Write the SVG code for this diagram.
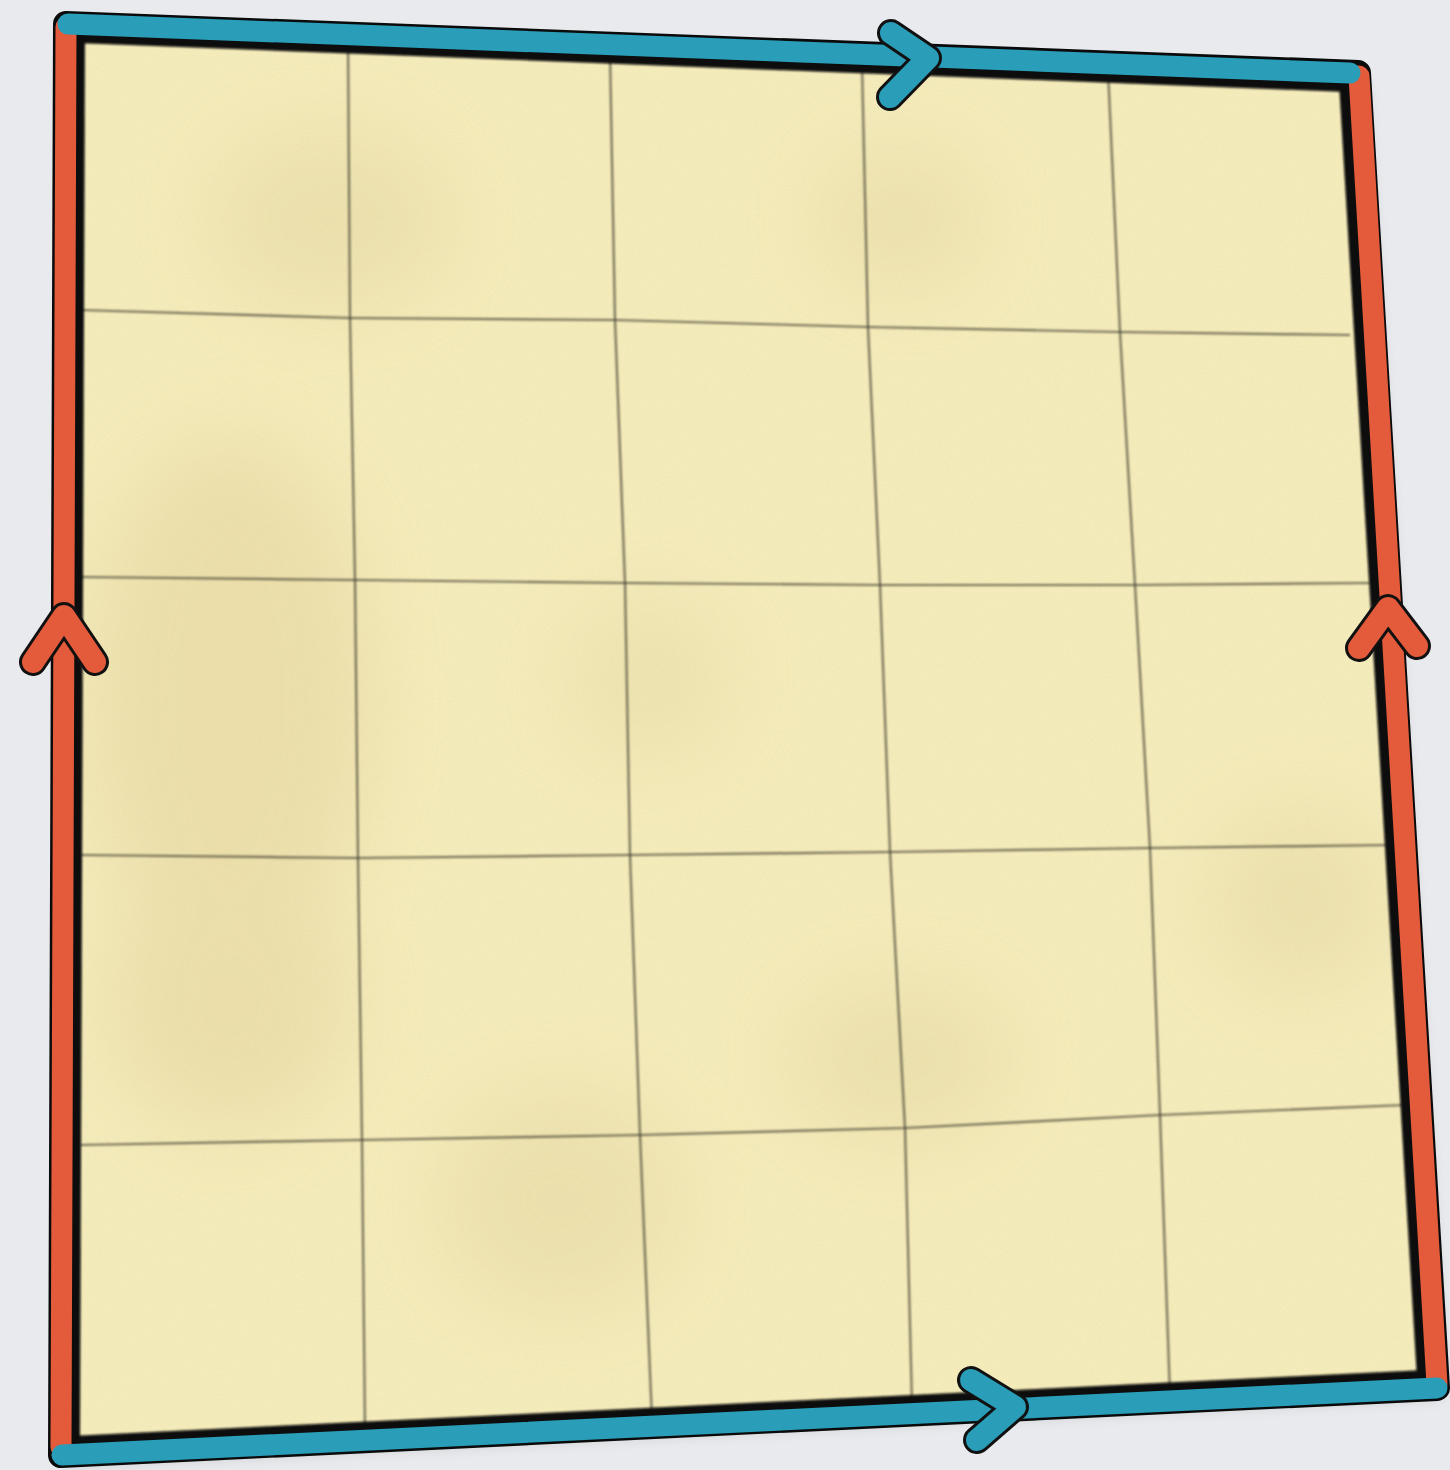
<svg xmlns="http://www.w3.org/2000/svg" width="1450" height="1470" viewBox="0 0 1450 1470">
<defs>
<filter id="blur" x="-50%" y="-50%" width="200%" height="200%"><feGaussianBlur stdDeviation="40"/></filter>
<filter id="soft" x="-10%" y="-10%" width="120%" height="120%"><feGaussianBlur stdDeviation="1.2"/></filter>
<filter id="shadow" x="-10%" y="-10%" width="120%" height="120%"><feGaussianBlur stdDeviation="8"/></filter>
<filter id="noise" x="0" y="0" width="100%" height="100%">
<feTurbulence type="fractalNoise" baseFrequency="0.9" numOctaves="2" seed="3" result="n"/>
<feColorMatrix in="n" type="matrix" values="0 0 0 0 0.6  0 0 0 0 0.52  0 0 0 0 0.25  0 0 0 0.22 0"/>
<feComposite in2="SourceGraphic" operator="in"/>
</filter>
<clipPath id="paperClip"><polygon points="66,24 1358,73 1437,1388 61,1455"/></clipPath>
</defs>
<style>
.grid{fill:none;stroke:#4a4536;stroke-width:2.2;stroke-opacity:0.75;stroke-linejoin:round}
.edgeK{fill:none;stroke:#0a0a0a;stroke-linecap:round;stroke-linejoin:round}
.blue{fill:none;stroke:#2a9db8;stroke-width:21;stroke-linecap:round;stroke-linejoin:round}
.red{fill:none;stroke:#e35b3b;stroke-width:21;stroke-linecap:round;stroke-linejoin:round}
.headK{fill:none;stroke:#111;stroke-width:28;stroke-linecap:round;stroke-linejoin:round}
.headB{fill:none;stroke:#2a9db8;stroke-width:22;stroke-linecap:round;stroke-linejoin:round}
.headR{fill:none;stroke:#e35b3b;stroke-width:22;stroke-linecap:round;stroke-linejoin:round}
</style>
<rect width="1450" height="1470" fill="#e8eaee"/>
<polygon points="70,30 1364,80 1443,1396 66,1464" fill="#000" opacity="0.15" filter="url(#shadow)"/>
<g id="paper">
<polygon points="66,24 1358,73 1437,1388 61,1455" fill="#f9f0c0"/>
<g clip-path="url(#paperClip)" opacity="0.3">
<ellipse cx="230" cy="700" rx="140" ry="260" fill="#d9c488" filter="url(#blur)"/>
<ellipse cx="230" cy="1000" rx="120" ry="130" fill="#d9c488" filter="url(#blur)"/>
<ellipse cx="330" cy="220" rx="120" ry="90" fill="#dccb92" filter="url(#blur)"/>
<ellipse cx="560" cy="1200" rx="120" ry="110" fill="#dccb92" filter="url(#blur)"/>
<ellipse cx="900" cy="1060" rx="110" ry="80" fill="#dccb92" filter="url(#blur)"/>
<ellipse cx="1300" cy="900" rx="90" ry="90" fill="#dccb92" filter="url(#blur)"/>
<ellipse cx="900" cy="220" rx="80" ry="70" fill="#dccb92" filter="url(#blur)"/>
<ellipse cx="650" cy="680" rx="80" ry="80" fill="#e0d09a" filter="url(#blur)"/>
</g>
<polygon points="66,24 1358,73 1437,1388 61,1455" fill="#fff" filter="url(#noise)"/>
</g>
<g id="grid" filter="url(#soft)">
<polyline class="grid" points="80,310 350,318 615,320 868,327 1120,332 1350,335"/>
<polyline class="grid" points="80,577 355,580 625,583 880,585 1135,585 1370,583"/>
<polyline class="grid" points="80,855 358,858 630,855 890,852 1150,848 1392,845"/>
<polyline class="grid" points="80,1145 362,1140 640,1135 905,1128 1160,1115 1405,1105"/>
<polyline class="grid" points="348,40 350,318 355,580 358,858 362,1140 365,1430"/>
<polyline class="grid" points="610,55 615,320 625,583 630,855 640,1135 652,1420"/>
<polyline class="grid" points="862,65 868,327 880,585 890,852 905,1128 912,1405"/>
<polyline class="grid" points="1108,70 1120,332 1135,585 1150,848 1160,1115 1170,1395"/>
</g>
<g id="connectors">
<polygon class="edgeK" points="66,24 1358,73 1437,1388 61,1455" stroke-width="26"/>
<polygon class="edgeK" points="76,34 1348,83 1426,1379 71,1445" stroke-width="18" filter="url(#soft)"/>
<g id="edge-left"><line class="red" x1="66" y1="27" x2="61" y2="1447"/></g>
<g id="edge-right"><line class="red" x1="1359" y1="76" x2="1437" y2="1384"/></g>
<g id="edge-top"><line class="blue" x1="68" y1="24" x2="1350" y2="73"/></g>
<g id="edge-bottom"><line class="blue" x1="62" y1="1455" x2="1437" y2="1388"/></g>
<g id="arrow-top">
<polyline class="headK" points="891,33 928,58 890,97"/>
<polyline class="headB" points="891,33 928,58 890,97"/>
</g>
<g id="arrow-bottom">
<polyline class="headK" points="971,1380 1015,1407 977,1440"/>
<polyline class="headB" points="971,1380 1015,1407 977,1440"/>
</g>
<g id="arrow-left">
<polyline class="headK" points="33,662 64,616 95,662"/>
<polyline class="headR" points="33,662 64,616 95,662"/>
</g>
<g id="arrow-right">
<polyline class="headK" points="1359,648 1388,608 1417,646"/>
<polyline class="headR" points="1359,648 1388,608 1417,646"/>
</g>
</g>
</svg>
